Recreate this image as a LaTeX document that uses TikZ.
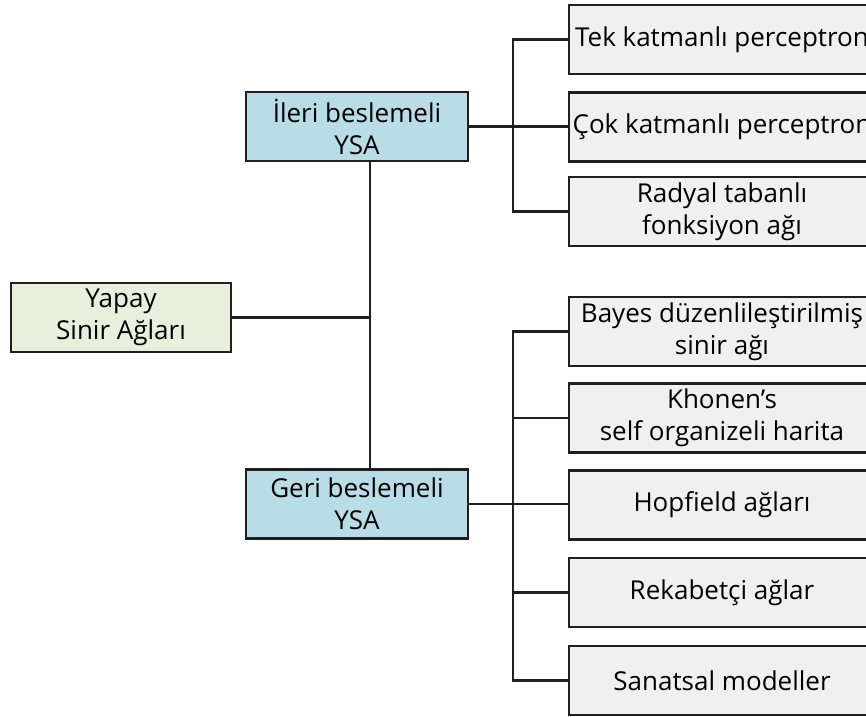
\documentclass[tikz,border=0pt]{standalone}
\usepackage{fontspec}
\setmainfont{Open Sans}
\begin{document}
\begin{tikzpicture}[x=1pt,y=-1pt,
  box/.style={draw=black!88,line width=2.3pt,align=center,inner sep=0pt,
    font=\fontsize{26}{32}\selectfont},
  rootbox/.style={box,fill=rootgreen,minimum width=220pt,minimum height=69pt},
  midbox/.style={box,fill=midblue,minimum width=222pt,minimum height=69pt},
  leafbox/.style={box,fill=leafgray,minimum width=306pt,minimum height=69pt},
  link/.style={line width=2.2pt,draw=black!88}]
\definecolor{rootgreen}{HTML}{E9EFDD}
\definecolor{midblue}{HTML}{B8DDE7}
\definecolor{leafgray}{HTML}{F0F0F0}
\useasboundingbox (0,0) rectangle (866,716);
\fill[white] (0,0) rectangle (866,716);

% root and the two families
\node[rootbox] (root) at (121,317.5) {Yapay\\Sinir Ağları};
\node[midbox] (ileri) at (357,126.5) {İleri beslemeli\\YSA};
\node[midbox] (geri) at (357,504) {Geri beslemeli\\YSA};

% feed-forward networks
\node[leafbox] (tek) at (722,39.5) {Tek katmanlı perceptron};
\node[leafbox] (cok) at (722,127) {Çok katmanlı perceptron};
\node[leafbox] (radyal) at (722,211.5) {Radyal tabanlı\\fonksiyon ağı};

% feedback networks
\node[leafbox] (bayes) at (722,331.5) {Bayes düzenlileştirilmiş\\sinir ağı};
\node[leafbox] (khonen) at (722,418) {Khonen’s\\self organizeli harita};
\node[leafbox] (hopfield) at (722,505) {Hopfield ağları};
\node[leafbox] (rekabet) at (722,592.5) {Rekabetçi ağlar};
\node[leafbox] (sanat) at (722,680.5) {Sanatsal modeller};

% trunk joining the root to both families
\coordinate (trunk) at (370,317.5);
\draw[link] (root.east) -- (trunk);
\draw[link] (ileri.south -| trunk) -- (geri.north -| trunk);

% upper bus
\draw[link] (tek.west) -- ++(-55,0) |- (radyal.west);
\draw[link] (ileri.east) -- (ileri.east -| cok.west);

% lower bus
\draw[link] (bayes.west) -- ++(-55,0) |- (sanat.west);
\draw[link] (khonen.west) -- ++(-55,0);
\draw[link] (rekabet.west) -- ++(-55,0);
\draw[link] (geri.east) -- (geri.east -| hopfield.west);
\end{tikzpicture}
\end{document}
